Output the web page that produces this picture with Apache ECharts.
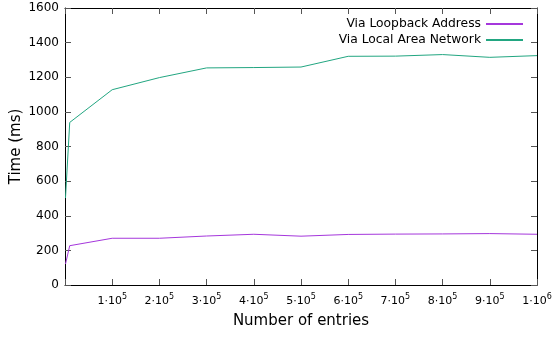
<!DOCTYPE html>
<html>
<head>
<meta charset="utf-8">
<script src="https://cdn.jsdelivr.net/npm/echarts@6/dist/echarts.min.js"></script>
<style>
  html, body { margin: 0; padding: 0; background: #fff; }
  #chart { width: 554px; height: 337px; }
</style>
</head>
<body>
<div id="chart"></div>
<script>
// Number of entries inserted per run
const entries = [1000, 10000, 100000, 200000, 300000, 400000, 500000, 600000, 700000, 800000, 900000, 1000000];
// Elapsed time (ms) per transport
const loopbackMs = [121, 227, 270, 270, 283, 293, 282, 292, 294, 295, 297, 293];
const lanMs = [502, 939, 1128, 1198, 1254, 1256, 1259, 1321, 1322, 1331, 1315, 1325];
const seriesNames = ['Via Loopback Address', 'Via Local Area Network'];
const seriesColors = ['#a537dc', '#22a681'];

const FONT = 'DejaVu Sans';

function sciLabel(v) {
  if (v === 0) return '';
  const exp = Math.floor(Math.log10(v) + 1e-9);
  const mant = Math.round(v / Math.pow(10, exp));
  return '{b|' + mant + '·10}{s|' + exp + '}';
}

const chart = echarts.init(document.getElementById('chart'), null, { renderer: 'canvas' });

const tickStyle = { show: true, inside: true, length: 6, lineStyle: { color: '#555', width: 1 } };
const axisLineStyle = { show: true, onZero: false, lineStyle: { color: '#000', width: 1 } };

chart.setOption({
  animation: false,
  backgroundColor: '#fff',
  grid: { left: 65, right: 17, top: 8, bottom: 52, containLabel: false, outerBoundsMode: 'none' },
  legend: {
    orient: 'vertical',
    right: 26,
    top: 13,
    align: 'right',
    itemWidth: 37,
    itemHeight: 2,
    itemGap: 4,
    icon: 'rect',
    textStyle: { fontFamily: FONT, fontSize: 12.3, color: '#000' },
    data: seriesNames
  },
  xAxis: [
    {
      type: 'value', min: 0, max: 1000000, interval: 100000,
      axisLine: axisLineStyle, axisTick: tickStyle, splitLine: { show: false },
      axisLabel: {
        margin: 8,
        formatter: sciLabel,
        rich: {
          b: { fontFamily: FONT, fontSize: 11, color: '#000' },
          s: { fontFamily: FONT, fontSize: 8, color: '#000', verticalAlign: 'bottom', padding: [0, 0, 9, 0] }
        }
      },
      name: 'Number of entries', nameLocation: 'middle', nameGap: 29, nameMoveOverlap: false,
      nameTextStyle: { fontFamily: FONT, fontSize: 15, color: '#000' }
    },
    {
      type: 'value', min: 0, max: 1000000, interval: 100000, position: 'top',
      axisLine: axisLineStyle, axisTick: tickStyle, axisLabel: { show: false }, splitLine: { show: false }
    }
  ],
  yAxis: [
    {
      type: 'value', min: 0, max: 1600, interval: 200,
      axisLine: axisLineStyle, axisTick: tickStyle, splitLine: { show: false },
      axisLabel: { fontFamily: FONT, fontSize: 12, color: '#000', margin: 6, formatter: v => String(v) },
      name: 'Time (ms)', nameLocation: 'middle', nameGap: 41, nameMoveOverlap: false,
      nameTextStyle: { fontFamily: FONT, fontSize: 15, color: '#000' }
    },
    {
      type: 'value', min: 0, max: 1600, interval: 200, position: 'right',
      axisLine: axisLineStyle, axisTick: tickStyle, axisLabel: { show: false }, splitLine: { show: false }
    }
  ],
  series: [
    {
      name: seriesNames[0], type: 'line', showSymbol: false, symbol: 'none',
      color: seriesColors[0], lineStyle: { width: 1, color: seriesColors[0] },
      data: entries.map((x, i) => [x, loopbackMs[i]])
    },
    {
      name: seriesNames[1], type: 'line', showSymbol: false, symbol: 'none',
      color: seriesColors[1], lineStyle: { width: 1, color: seriesColors[1] },
      data: entries.map((x, i) => [x, lanMs[i]])
    }
  ]
});
</script>
</body>
</html>
